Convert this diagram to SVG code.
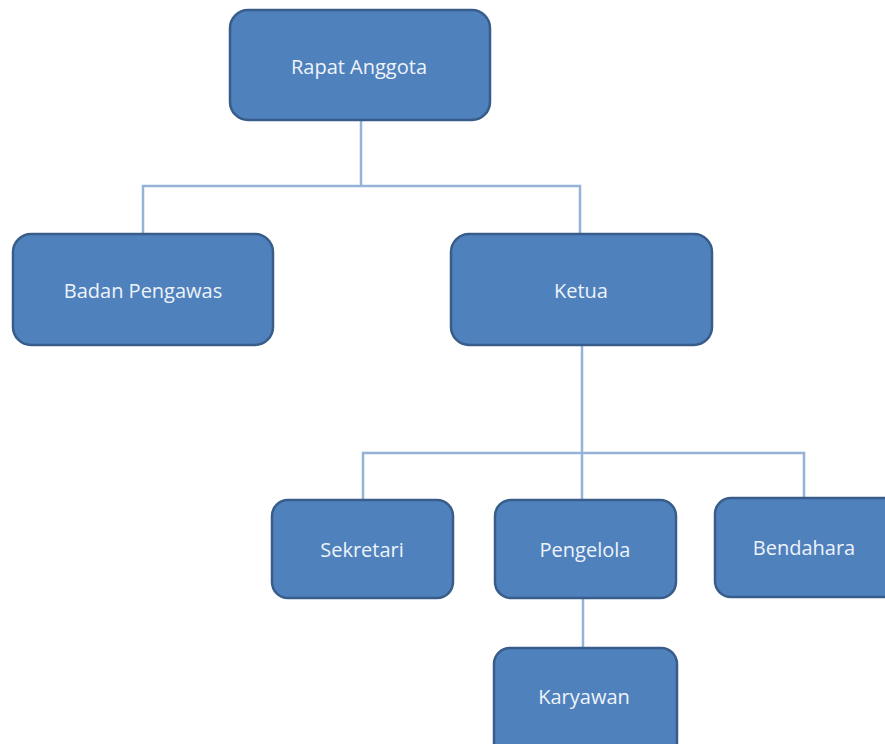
<svg xmlns="http://www.w3.org/2000/svg" width="885" height="744" viewBox="0 0 885 744">
<style>
.box{fill:#4F81BD;stroke:#385D8A;stroke-width:2.5}
.lbl{font-family:"Open Sans","Liberation Sans",sans-serif;font-size:20px;fill:#EEF3FA;text-anchor:middle;dominant-baseline:central}
.con{fill:none;stroke:#95B3D7;stroke-width:2.5}
</style>
<rect width="885" height="744" fill="#FFFFFF"/>
<g id="connectors">
<path class="con" d="M361,120 V186 M143,234 V186 H580 V234"/>
<path class="con" d="M582,345 V500 M363,500 V453 H804 V497"/>
<path class="con" d="M583,598 V648"/>
</g>
<g id="rapat-anggota"><rect class="box" x="230" y="10" width="260" height="110" rx="18"/><text class="lbl" x="359" y="66">Rapat Anggota</text></g>
<g id="badan-pengawas"><rect class="box" x="13" y="234" width="260" height="111" rx="18"/><text class="lbl" x="143" y="290">Badan Pengawas</text></g>
<g id="ketua"><rect class="box" x="451" y="234" width="261" height="111" rx="18"/><text class="lbl" x="581" y="290">Ketua</text></g>
<g id="sekretari"><rect class="box" x="272" y="500" width="181" height="98" rx="16"/><text class="lbl" x="362" y="549">Sekretari</text></g>
<g id="pengelola"><rect class="box" x="495" y="500" width="181" height="98" rx="16"/><text class="lbl" x="585" y="549">Pengelola</text></g>
<g id="bendahara"><rect class="box" x="715" y="498" width="185" height="99" rx="16"/><text class="lbl" x="804" y="547">Bendahara</text></g>
<g id="karyawan"><rect class="box" x="494" y="648" width="183" height="110" rx="16"/><text class="lbl" x="584" y="696">Karyawan</text></g>
</svg>
